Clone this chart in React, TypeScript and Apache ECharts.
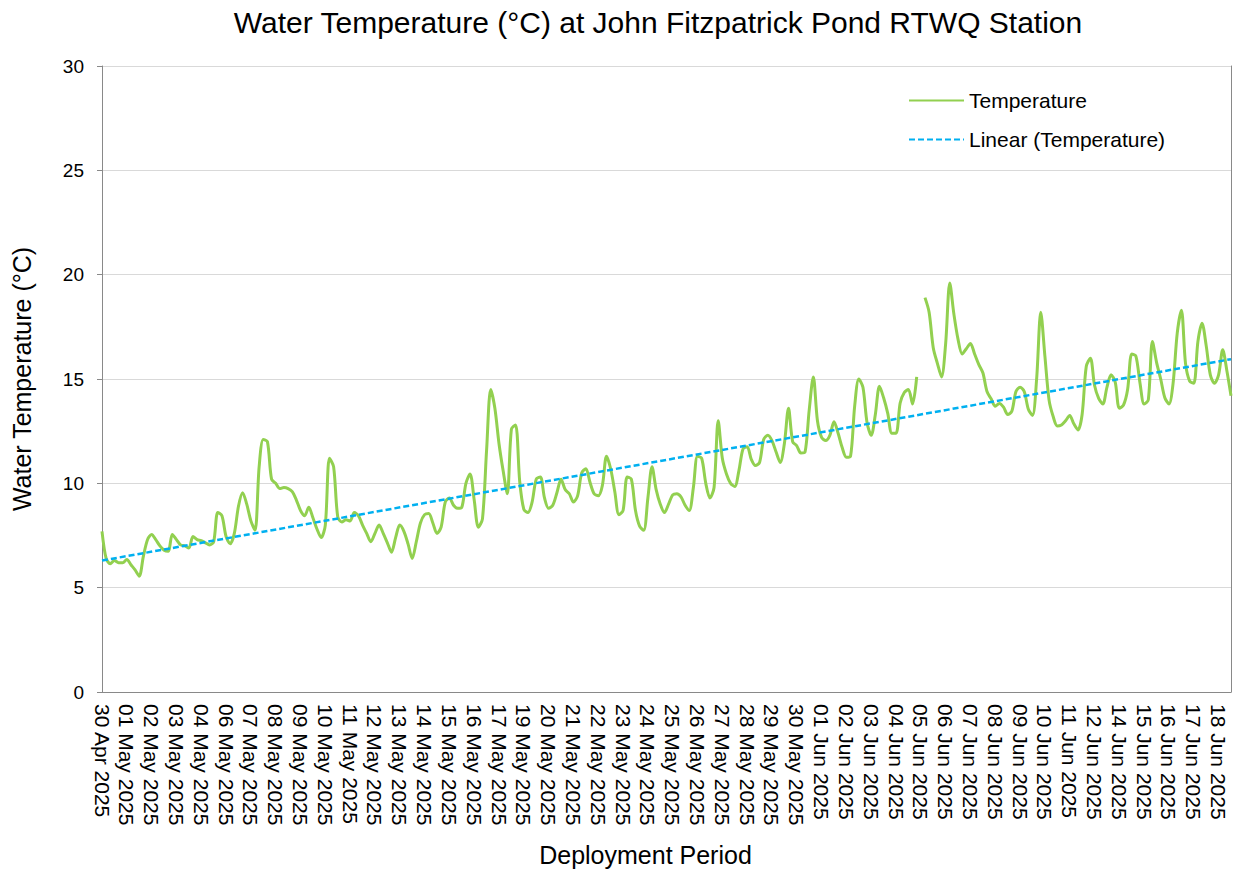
import React, { useEffect, useRef } from "react";
import * as echarts from "echarts";

// x-axis tick labels (one label every 6 readings)
const tickLabels = [
  "30 Apr 2025", "01 May 2025", "02 May 2025", "03 May 2025", "04 May 2025", "06 May 2025",
  "07 May 2025", "08 May 2025", "09 May 2025", "10 May 2025", "11 May 2025", "12 May 2025",
  "13 May 2025", "14 May 2025", "15 May 2025", "16 May 2025", "17 May 2025", "19 May 2025",
  "20 May 2025", "21 May 2025", "22 May 2025", "23 May 2025", "24 May 2025", "25 May 2025",
  "26 May 2025", "27 May 2025", "28 May 2025", "29 May 2025", "30 May 2025", "01 Jun 2025",
  "02 Jun 2025", "03 Jun 2025", "04 Jun 2025", "05 Jun 2025", "06 Jun 2025", "07 Jun 2025",
  "08 Jun 2025", "09 Jun 2025", "10 Jun 2025", "11 Jun 2025", "12 Jun 2025", "14 Jun 2025",
  "15 Jun 2025", "16 Jun 2025", "17 Jun 2025", "18 Jun 2025",
];
const readingsPerLabel = 6;

// Water temperature readings (°C)
const tempSegment1 = [
  7.7, 6.4, 6.15, 6.3, 6.2, 6.2, 6.35, 6.1, 5.85, 5.55,
  6.5, 7.3, 7.55, 7.3, 7.0, 6.8, 6.75, 7.55, 7.3, 7.05,
  7.0, 6.9, 7.45, 7.3, 7.25, 7.15, 7.05, 7.2, 8.6, 8.45,
  7.45, 7.1, 7.6, 8.9, 9.55, 9.0, 8.2, 7.75, 10.8, 12.1,
  12.0, 10.2, 10.0, 9.75, 9.8, 9.75,
];
const tempSegment2 = [
  9.6, 9.2, 8.7, 8.45, 8.85, 8.35, 7.8, 7.4, 8.0, 11.2,
  10.8, 8.4, 8.15, 8.25, 8.2, 8.6, 8.45, 8.0, 7.6, 7.2,
  7.6, 8.0, 7.6, 7.15, 6.7, 7.4, 8.0, 7.7, 7.1, 6.4,
  7.2, 8.1, 8.5, 8.55, 8.1, 7.6, 7.9, 9.1, 9.3, 8.95,
  8.8, 8.85, 10.0, 10.45, 9.2, 7.9,
];
const tempSegment3 = [
  8.3, 11.6, 14.5, 13.6, 11.9, 10.6, 9.5, 12.6, 12.8, 10.1,
  8.75, 8.6, 9.1, 10.2, 10.3, 9.3, 8.8, 8.95, 9.55, 10.2,
  9.7, 9.5, 9.1, 9.4, 10.5, 10.7, 10.05, 9.5, 9.4, 9.9,
  11.3, 10.7, 9.6, 8.5, 8.7, 10.3, 10.2, 8.7, 7.95, 7.75,
  9.3, 10.8, 9.7, 9.0, 8.6, 9.0,
];
const tempSegment4 = [
  9.45, 9.5, 9.35, 8.95, 8.7, 9.8, 11.3, 11.2, 10.0, 9.3,
  9.8, 13.0, 11.2, 10.45, 10.0, 9.85, 10.6, 11.65, 11.75, 11.15,
  10.85, 11.0, 12.1, 12.3, 12.05, 11.5, 11.0, 11.9, 13.6, 12.0,
  11.8, 11.45, 11.5, 13.5, 15.1, 13.0, 12.2, 12.05, 12.3, 12.95,
  12.4, 11.7, 11.25, 11.3, 13.7, 15.0,
];
const tempSegment5 = [
  14.6, 12.9, 12.3, 13.3, 14.65, 14.1, 13.35, 12.4, 12.4, 13.85,
  14.35, 14.5, 13.8, 15.1, null, 18.9, 18.2, 16.5, 15.75, 15.1,
  16.7, 19.6, 18.1, 16.9, 16.2, 16.45, 16.7, 16.2, 15.7, 15.3,
  14.4, 14.05, 13.7, 13.83, 13.65, 13.3, 13.45, 14.4, 14.6, 14.4,
  13.55, 13.25, 15.0, 18.2, 16.1, 14.0,
];
const tempSegment6 = [
  13.2, 12.75, 12.8, 13.0, 13.25, 12.85, 12.56, 13.3, 15.6, 16.0,
  14.7, 14.07, 13.8, 14.6, 15.2, 14.85, 13.6, 13.75, 14.5, 16.2,
  16.1, 14.8, 13.8, 14.0, 16.8, 15.8, 15.0, 14.1, 13.8, 14.8,
  17.2, 18.3, 15.75, 14.9, 14.8, 16.8, 17.67, 16.6, 15.2, 14.8,
  15.2, 16.4, 15.4, 14.2,
];

// Linear trend line end values (°C)
const trendStart = 6.3;
const trendEnd = 15.95;

const temperature: (number | null)[] = [
  ...tempSegment1, ...tempSegment2, ...tempSegment3,
  ...tempSegment4, ...tempSegment5, ...tempSegment6,
];

const categories = temperature.map((_, i) => {
  const label = tickLabels[Math.floor(i / readingsPerLabel)];
  return i % readingsPerLabel === 0 ? label : `${label} #${i % readingsPerLabel}`;
});

const lastIndex = temperature.length - 1;
const trend = temperature.map((_, i) => (i === 0 ? trendStart : i === lastIndex ? trendEnd : null));

const FONT = "Liberation Sans, Arial, Helvetica, sans-serif";
const AXIS_GRAY = "#898989";

export default function App() {
  const ref = useRef<HTMLDivElement>(null);

  useEffect(() => {
    if (!ref.current) return;
    const chart = echarts.init(ref.current, undefined, { renderer: "svg" });
    chart.setOption({
      animation: false,
      backgroundColor: "#ffffff",
      textStyle: { fontFamily: FONT },
      title: {
        text: "Water Temperature (°C) at John Fitzpatrick Pond RTWQ Station",
        left: 653,
        textAlign: "center",
        top: 2,
        textStyle: { fontSize: 30, fontWeight: "normal", color: "#000", fontFamily: FONT },
      },
      legend: {
        orient: "vertical",
        left: 903,
        top: 85,
        itemWidth: 55,
        itemHeight: 14,
        itemGap: 18,
        itemStyle: { opacity: 0 },
        textStyle: { fontSize: 21, color: "#000", fontFamily: FONT },
        data: ["Temperature", "Linear (Temperature)"],
      },
      grid: { left: 102, right: 2, top: 66, bottom: 184, containLabel: false },
      xAxis: {
        type: "category",
        data: categories,
        boundaryGap: false,
        axisLine: { show: true, lineStyle: { color: AXIS_GRAY, width: 1 } },
        axisTick: { show: false },
        splitLine: { show: false },
        axisLabel: {
          interval: readingsPerLabel - 1,
          rotate: -90,
          fontSize: 21,
          color: "#000",
          margin: 12,
          fontFamily: FONT,
        },
        name: "Deployment Period",
        nameLocation: "middle",
        nameGap: 150,
        nameTextStyle: { fontSize: 25, color: "#000", fontFamily: FONT, padding: [0, 42, 0, 0] },
      },
      yAxis: [
        {
          type: "value",
          min: 0,
          max: 30,
          interval: 5,
          axisLine: { show: true, lineStyle: { color: AXIS_GRAY, width: 1 } },
          axisTick: { show: true, length: 5, lineStyle: { color: AXIS_GRAY } },
          axisLabel: { fontSize: 19, color: "#000", margin: 18, fontFamily: FONT },
          splitLine: { show: true, lineStyle: { color: "#D9D9D9", width: 1 } },
          name: "Water Temperature (°C)",
          nameLocation: "middle",
          nameGap: 68,
          nameTextStyle: { fontSize: 25, color: "#000", fontFamily: FONT },
        },
        {
          type: "value",
          position: "right",
          min: 0,
          max: 30,
          interval: 5,
          axisLine: { show: true, lineStyle: { color: AXIS_GRAY, width: 1 } },
          axisTick: { show: false },
          axisLabel: { show: false },
          splitLine: { show: false },
        },
      ],
      series: [
        {
          name: "Temperature",
          type: "line",
          data: temperature,
          symbol: "none",
          smooth: 0.3,
          connectNulls: false,
          lineStyle: { color: "#92D050", width: 3 },
          itemStyle: { color: "#92D050" },
          z: 2,
        },
        {
          name: "Linear (Temperature)",
          type: "line",
          data: trend,
          symbol: "none",
          connectNulls: true,
          lineStyle: { color: "#00B0F0", width: 2.5, type: [6, 3] },
          itemStyle: { color: "#00B0F0" },
          z: 3,
        },
      ],
    });
    return () => chart.dispose();
  }, []);

  return (
    <div
      ref={ref}
      style={{ position: "fixed", left: 0, top: 0, width: 1233, height: 876, background: "#fff" }}
    />
  );
}
